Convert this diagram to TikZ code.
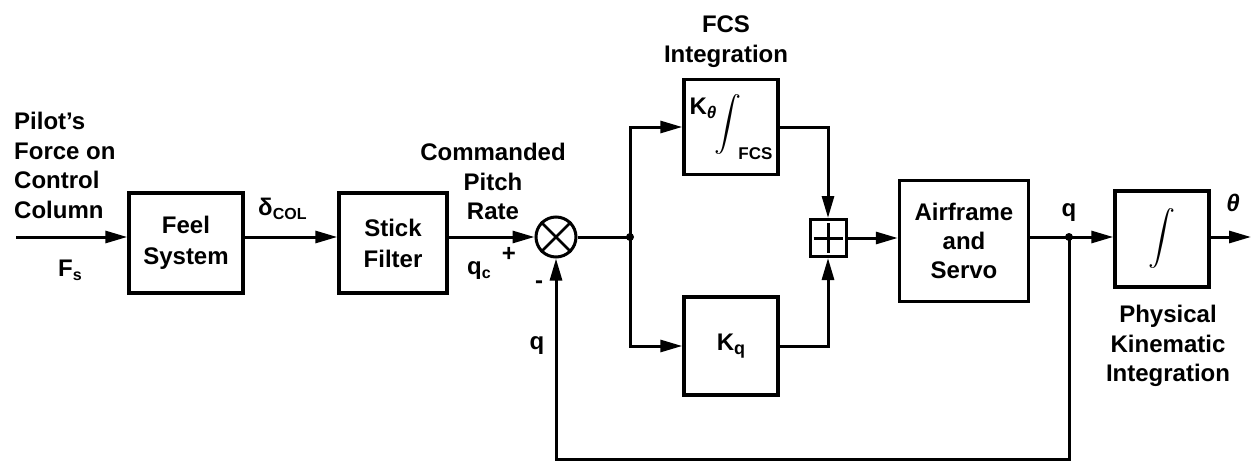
\documentclass[tikz,border=0pt]{standalone}
\usepackage{fontspec}
\setmainfont{Liberation Sans}
\usetikzlibrary{arrows.meta}
\newcommand{\lsub}[2][16]{\raisebox{-4pt}{\fontsize{#1}{#1}\selectfont #2}}
\newcommand{\bigintsym}{$\vcenter{\hbox{\resizebox*{!}{60pt}{$\displaystyle\int$}}}$}
\begin{document}
\begin{tikzpicture}[x=1pt,y=-1pt,
  lbl/.style={font=\fontsize{24}{29.5}\selectfont\bfseries, inner sep=0pt, align=center},
  blk/.style={draw, line width=3.5pt, inner sep=0pt, align=center,
              font=\fontsize{24}{31}\selectfont\bfseries},
  ln/.style={line width=3pt},
  arr/.style={ln, -{Triangle[length=22pt,width=12pt]}},
  dot/.style={fill, circle, inner sep=0pt, minimum size=8pt}
]
\useasboundingbox (0,0) rectangle (1251,463);

% blocks
\node[blk, minimum width=114pt, minimum height=100pt] (feel) at (186,243) {Feel\\System};
\node[blk, minimum width=108pt, minimum height=100pt] (stick) at (393,243) {Stick\\Filter};
\node[draw, circle, line width=3pt, minimum size=40pt, inner sep=0pt] (sum) at (556,237) {};
\draw[line width=2.5pt] (sum.north east) -- (sum.south west) (sum.north west) -- (sum.south east);
\node[blk, minimum width=94pt, minimum height=95pt] (kt) at (731,127)
  {\raisebox{17pt}{K\lsub[17]{\itshape θ}}\hspace{-2pt}\bigintsym\hspace{-3pt}\raisebox{-28pt}{\fontsize{17}{17}\selectfont FCS}};
\node[blk, minimum width=94pt, minimum height=98pt] (kq) at (731,346) {K\lsub[18]{q}};
\node[draw, line width=3pt, minimum width=36pt, minimum height=37pt, inner sep=0pt] (plus) at (828,238) {};
\draw[ln, shorten >=5pt, shorten <=5pt] (plus.north) -- (plus.south);
\draw[ln, shorten >=5pt, shorten <=5pt] (plus.west) -- (plus.east);
\node[blk, minimum width=129pt, minimum height=121pt, font=\fontsize{24}{29}\selectfont\bfseries] (air) at (964,241) {Airframe\\and\\Servo};
\node[blk, minimum width=94pt, minimum height=96pt] (integ) at (1162,239) {\bigintsym};

% coordinates
\coordinate (in) at (16,237);
\coordinate (br) at (630,237);
\coordinate (jq) at (1069,237);
\coordinate (out) at (1251,237);
\coordinate (fbc) at (1069,459);

% connectors
\draw[arr] (in) -- (in -| feel.west);
\draw[arr] (feel.east |- sum) -- (stick.west |- sum);
\draw[arr] (stick.east |- sum) -- (sum.west);
\draw[ln] (sum.east) -- (br);
\node[dot] (brdot) at (br) {};
\draw[arr] (br) |- (kt.west);
\draw[arr] (br) |- (kq.west);
\draw[arr] (kt.east) -| (plus.north);
\draw[arr] (kq.east) -| (plus.south);
\draw[arr] (plus.east) -- (air.west |- plus.east);
\draw[ln] (air.east |- jq) -- (jq);
\node[dot] (jqdot) at (jq) {};
\draw[arr] (jq) -- (integ.west |- jq);
\draw[arr] (integ.east |- out) -- (out);
\draw[arr] (jq) -- (fbc) -| (sum.south);

% labels
\node[lbl, anchor=north west, align=left] (pilot) at (14,112) {Pilot’s\\Force on\\Control\\Column};
\node[lbl, anchor=base] (fs) at (70,276) {F\lsub{s}};
\node[lbl, anchor=base west] (dcol) at (258,215) {δ\lsub{COL}};
\node[lbl, anchor=north] (cmd) at (493,143) {Commanded\\Pitch\\Rate};
\node[lbl, anchor=base west] (qc) at (467,274) {q\lsub{c}};
\node[lbl, font=\fontsize{24}{24}\selectfont\bfseries] (pl) at (509,254) {+};
\node[lbl] (mi) at (539,285) {-};
\node[lbl] (qfb) at (537,346) {q};
\node[lbl, anchor=north] (fcs) at (726,16) {FCS\\Integration};
\node[lbl, anchor=base] (qout) at (1069,216) {q};
\node[lbl, anchor=base] (th) at (1233,211) {\itshape θ};
\node[lbl, anchor=north] (phys) at (1168,305) {Physical\\Kinematic\\Integration};
\end{tikzpicture}
\end{document}
